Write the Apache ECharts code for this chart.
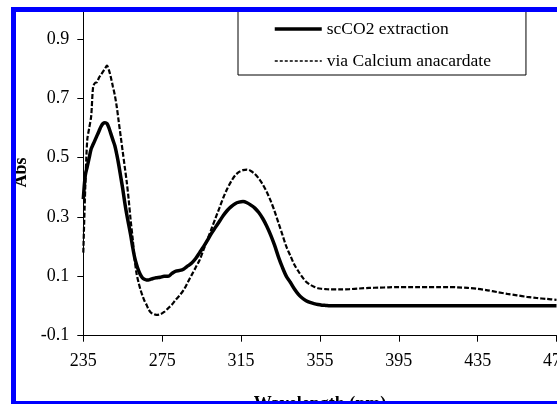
<!DOCTYPE html>
<html>
<head>
<meta charset="utf-8">
<script src="https://cdn.jsdelivr.net/npm/echarts@6/dist/echarts.min.js"></script>
<style>
html,body{margin:0;padding:0;background:#fff;}
#chart{width:557px;height:404px;}
</style>
</head>
<body>
<div id="chart"></div>
<script>
const wavelength = [235,236,237,238,239,240,241,242,243,244,245,246,247,248,249,250,251,252,253,254,255,256,257,258,259,260,261,262,263,264,265,266,267,268,269,270,272,274,276,278,280,282,284,286,288,290,292,294,296,298,300,302,304,306,308,310,312,314,316,318,320,322,324,326,328,330,332,334,336,338,340,342,344,346,348,350,352,354,356,358,360,365,370,375,380,385,390,395,400,405,410,415,420,425,430,435,440,445,450,455,460,465,470,475];
const scCO2 = [0.36,0.44,0.47,0.50,0.53,0.545,0.56,0.575,0.59,0.605,0.615,0.618,0.615,0.60,0.58,0.56,0.54,0.51,0.475,0.435,0.395,0.35,0.31,0.275,0.24,0.20,0.165,0.14,0.12,0.105,0.095,0.09,0.088,0.088,0.09,0.092,0.095,0.097,0.10,0.10,0.11,0.118,0.12,0.125,0.135,0.145,0.16,0.18,0.20,0.222,0.245,0.265,0.285,0.305,0.322,0.335,0.345,0.35,0.352,0.348,0.34,0.33,0.315,0.295,0.27,0.24,0.205,0.165,0.13,0.10,0.08,0.058,0.04,0.027,0.018,0.012,0.008,0.005,0.003,0.002,0.001,0.001,0.001,0.001,0.001,0.001,0.001,0.001,0.001,0.001,0.001,0.001,0.001,0.001,0.001,0.001,0.001,0.001,0.001,0.001,0.001,0.001,0.001,0.001];
const calcium = [0.18,0.40,0.56,0.60,0.64,0.74,0.752,0.755,0.77,0.78,0.79,0.80,0.81,0.795,0.77,0.74,0.71,0.67,0.62,0.57,0.52,0.47,0.42,0.36,0.29,0.23,0.16,0.11,0.08,0.055,0.035,0.018,0.005,-0.01,-0.02,-0.025,-0.03,-0.028,-0.02,-0.008,0.005,0.022,0.037,0.055,0.08,0.105,0.13,0.155,0.19,0.225,0.26,0.295,0.33,0.365,0.395,0.42,0.44,0.452,0.458,0.46,0.455,0.445,0.43,0.41,0.385,0.355,0.32,0.28,0.24,0.20,0.17,0.14,0.118,0.098,0.082,0.072,0.065,0.06,0.058,0.057,0.056,0.056,0.057,0.059,0.061,0.062,0.063,0.064,0.064,0.064,0.064,0.064,0.064,0.063,0.061,0.058,0.053,0.047,0.041,0.036,0.031,0.027,0.024,0.021];
const yTicks = [-0.1,0.1,0.3,0.5,0.7,0.9];
const xTicks = [235,275,315,355,395,435,475];
const seriesNames = ['scCO2 extraction','via Calcium anacardate'];

const FONT = "'Liberation Serif','Times New Roman',serif";
const chart = echarts.init(document.getElementById('chart'), null, {renderer:'canvas'});
const pair = (ys) => wavelength.map((x,i)=>[x, ys[i]]);

chart.setOption({
  animation:false,
  backgroundColor:'#fff',
  grid:{left:83.3, right:0.5, top:9.3, bottom:68.3, containLabel:false, outerBoundsMode:'none'},
  legend:{
    show:true,
    orient:'vertical', left:238, top:9,
    padding:[11,35,5,35],
    itemWidth:47, itemHeight:14, itemGap:14,
    borderColor:'#000', borderWidth:1, backgroundColor:'#fff',
    itemStyle:{color:'rgba(0,0,0,0)', borderColor:'rgba(0,0,0,0)', borderWidth:0, opacity:0},
    textStyle:{fontFamily:FONT, fontSize:17.5, color:'#000'},
    data:[
      {name:seriesNames[0], lineStyle:{width:3.5, color:'#000', type:'solid'}},
      {name:seriesNames[1], lineStyle:{width:1.5, color:'#000', type:[3,2]}}
    ]
  },
  xAxis:{
    type:'value', min:235, max:475, interval:40,
    name:'Wavelength (nm)', nameLocation:'middle', nameGap:60,
    nameTextStyle:{fontFamily:FONT, fontSize:18, fontWeight:'bold', color:'#000'},
    axisLine:{onZero:false, lineStyle:{color:'#000', width:1}},
    axisTick:{show:true, length:6, lineStyle:{color:'#000'}},
    axisLabel:{fontFamily:FONT, fontSize:18, color:'#000', margin:17,
      formatter:(v)=> xTicks.some(t=>Math.abs(t-v)<1e-6) ? String(v) : ''},
    splitLine:{show:false}
  },
  yAxis:{
    type:'value', min:-0.1, max:1.0, interval:0.2,
    name:'Abs', nameLocation:'middle', nameGap:53, nameRotate:90,
    nameTextStyle:{fontFamily:FONT, fontSize:18, fontWeight:'bold', color:'#000'},
    axisLine:{show:true, onZero:false, lineStyle:{color:'#000', width:1}},
    axisTick:{show:true, length:6, lineStyle:{color:'#000'}},
    axisLabel:{fontFamily:FONT, fontSize:18, color:'#000', margin:14,
      formatter:(v)=> {const t = yTicks.find(t=>Math.abs(t-v)<1e-6); return t===undefined ? '' : t.toFixed(1);}},
    splitLine:{show:false}
  },
  series:[
    {name:seriesNames[0], type:'line', data:pair(scCO2), showSymbol:false, symbol:'none', smooth:0.3,
     lineStyle:{color:'#000', width:3.5, type:'solid'}, itemStyle:{color:'#000'}, z:3},
    {name:seriesNames[1], type:'line', data:pair(calcium), showSymbol:false, symbol:'none', smooth:0.3,
     lineStyle:{color:'#000', width:2.2, type:[5,2]}, itemStyle:{color:'#000'}, z:2}
  ],
  graphic:[
    {type:'line', z:100, shape:{x1:11, y1:9.5, x2:557, y2:9.5}, style:{stroke:'#0000ff', lineWidth:5}},
    {type:'line', z:100, shape:{x1:13.5, y1:7, x2:13.5, y2:404}, style:{stroke:'#0000ff', lineWidth:5}},
    {type:'line', z:100, shape:{x1:11, y1:402.5, x2:557, y2:402.5}, style:{stroke:'#0000ff', lineWidth:3}}
  ]
});
</script>
</body>
</html>
